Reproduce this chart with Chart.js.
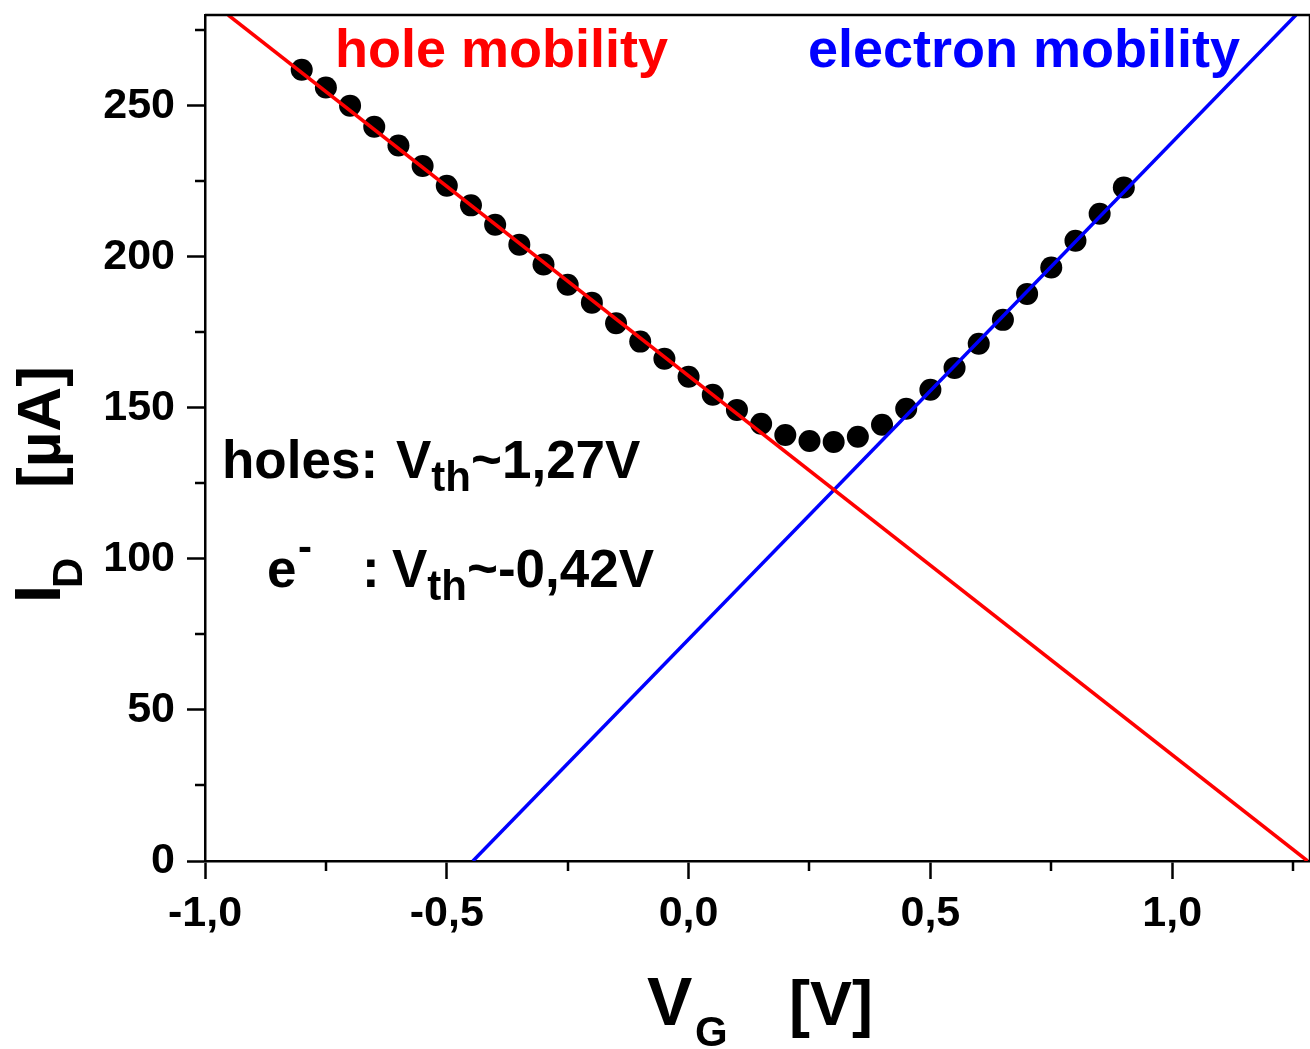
<!DOCTYPE html>
<html>
<head>
<meta charset="utf-8">
<script src="https://cdn.jsdelivr.net/npm/chart.js@4.4.1/dist/chart.umd.min.js"></script>
<style>
  html, body { margin: 0; padding: 0; background: #fff; }
  #wrap { width: 1310px; height: 1049px; position: relative; }
</style>
</head>
<body>
<div id="wrap"><canvas id="c" width="1310" height="1049"></canvas></div>
<script>
// ---- data ----
const vgValues = [-0.80,-0.75,-0.70,-0.65,-0.60,-0.55,-0.50,-0.45,-0.40,-0.35,-0.30,-0.25,-0.20,-0.15,-0.10,-0.05,
  0.00,0.05,0.10,0.15,0.20,0.25,0.30,0.35,0.40,0.45,0.50,0.55,0.60,0.65,0.70,0.75,0.80,0.85,0.90];
const idValues = [261.9,256.0,250.0,243.0,236.8,230.0,223.5,217.0,210.6,204.0,197.4,190.7,184.8,178.0,171.9,166.2,
  160.3,154.3,149.3,144.7,141.0,139.0,138.7,140.4,144.4,149.7,156.0,163.2,171.2,179.1,187.7,196.4,205.3,214.2,222.9];
const holeFitX = [-0.952, 1.28];
const holeFitY = [280, 0];
const electronFitX = [-0.446, 1.256];
const electronFitY = [0, 280];
const xTickValues = [-1.0, -0.5, 0.0, 0.5, 1.0];
const xMinorTickValues = [-0.75, -0.25, 0.25, 0.75, 1.25];
const yTickValues = [0, 50, 100, 150, 200, 250];
const yMinorTickValues = [25, 75, 125, 175, 225, 275];
const xRange = [-1.0, 1.285];
const yRange = [0, 280];

const FONT = "'Liberation Sans', Arial, sans-serif";
const toPts = (xs, ys) => xs.map((x, i) => ({ x: x, y: ys[i] }));

function drawRich(ctx, x, y, segs, color) {
  ctx.save();
  ctx.fillStyle = color;
  ctx.textBaseline = 'alphabetic';
  ctx.textAlign = 'left';
  let cx = x;
  for (const s of segs) {
    if (s.at !== undefined) cx = s.at;
    ctx.font = 'bold ' + s.size + 'px ' + FONT;
    ctx.fillText(s.t, cx, y + (s.dy || 0));
    cx += ctx.measureText(s.t).width;
  }
  ctx.restore();
}

const decor = {
  id: 'decor',
  afterDraw(chart) {
    const ctx = chart.ctx;
    const a = chart.chartArea;
    const xs = chart.scales.x, ys = chart.scales.y;
    ctx.save();
    ctx.strokeStyle = '#000';
    ctx.lineWidth = 2.5;
    // top & right frame
    ctx.beginPath();
    ctx.moveTo(a.left, a.top); ctx.lineTo(a.right, a.top);
    ctx.moveTo(a.right, a.top); ctx.lineTo(a.right, a.bottom);
    ctx.stroke();
    // minor ticks
    ctx.beginPath();
    for (const v of xMinorTickValues) {
      const p = Math.round(xs.getPixelForValue(v));
      ctx.moveTo(p, a.bottom); ctx.lineTo(p, a.bottom + 10);
    }
    for (const v of yMinorTickValues) {
      const p = Math.round(ys.getPixelForValue(v));
      ctx.moveTo(a.left - 10, p); ctx.lineTo(a.left, p);
    }
    ctx.stroke();
    ctx.restore();

    // series labels
    drawRich(ctx, 335, 67, [{ t: 'hole mobility', size: 54 }], '#ff0000');
    drawRich(ctx, 808, 67, [{ t: 'electron mobility', size: 54 }], '#0000ff');

    // annotations
    drawRich(ctx, 222, 478, [
      { t: 'holes: ', size: 53 },
      { t: 'V', size: 53, at: 396 },
      { t: 'th', size: 42, dy: 13 },
      { t: '~1,27V', size: 53 }
    ], '#000');
    drawRich(ctx, 267, 587, [
      { t: 'e', size: 53 },
      { t: '-', size: 42, dy: -26, at: 298 },
      { t: ':', size: 53, at: 362 },
      { t: 'V', size: 53, at: 392 },
      { t: 'th', size: 42, dy: 13 },
      { t: '~-0,42V', size: 53 }
    ], '#000');

    // x axis title
    drawRich(ctx, 647, 1025, [
      { t: 'V', size: 68 },
      { t: 'G', size: 42, dy: 21, at: 695 },
      { t: '[V]', size: 63, at: 789 }
    ], '#000');

    // y axis title (rotated)
    ctx.save();
    ctx.translate(60, 603);
    ctx.rotate(-Math.PI / 2);
    drawRich(ctx, 0, 0, [
      { t: 'I', size: 65 },
      { t: 'D', size: 42, dy: 22, at: 15 },
      { t: '[\u00b5A]', size: 62, at: 115 }
    ], '#000');
    ctx.restore();
  }
};

const tickFont = { family: FONT, size: 43, weight: 'bold' };
const fmt = v => Number(v).toFixed(1).replace('.', ',');

new Chart(document.getElementById('c'), {
  type: 'scatter',
  data: {
    datasets: [
      {
        label: 'hole fit', data: toPts(holeFitX, holeFitY), showLine: true,
        borderColor: '#ff0000', borderWidth: 3.5, pointRadius: 0, fill: false, order: 0
      },
      {
        label: 'electron fit', data: toPts(electronFitX, electronFitY), showLine: true,
        borderColor: '#0000ff', borderWidth: 3.5, pointRadius: 0, fill: false, order: 0
      },
      {
        label: 'I_D', data: toPts(vgValues, idValues), showLine: false,
        pointRadius: 11, pointBackgroundColor: '#000', pointBorderColor: '#000', pointBorderWidth: 0, order: 1
      }
    ]
  },
  options: {
    responsive: false,
    devicePixelRatio: 1,
    animation: false,
    layout: { autoPadding: false, padding: { top: 15, right: 0, left: 0, bottom: 0 } },
    plugins: { legend: { display: false }, tooltip: { enabled: false } },
    scales: {
      x: {
        type: 'linear', min: xRange[0], max: xRange[1],
        afterBuildTicks: s => { s.ticks = xTickValues.map(v => ({ value: v })); },
        afterFit: s => { s.height = 188; s.paddingLeft = 0; s.paddingRight = 0; },
        ticks: { font: tickFont, color: '#000', padding: 9, maxRotation: 0, autoSkip: false, callback: fmt },
        grid: { drawOnChartArea: false, drawTicks: true, tickLength: 18, tickWidth: 2.5, tickColor: '#000' },
        border: { display: true, color: '#000', width: 2.5 }
      },
      y: {
        type: 'linear', min: yRange[0], max: yRange[1],
        afterBuildTicks: s => { s.ticks = yTickValues.map(v => ({ value: v })); },
        afterFit: s => { s.width = 205; s.paddingTop = 0; s.paddingBottom = 0; },
        ticks: { font: tickFont, color: '#000', padding: 12, autoSkip: false, callback: v => String(v) },
        grid: { drawOnChartArea: false, drawTicks: true, tickLength: 18, tickWidth: 2.5, tickColor: '#000' },
        border: { display: true, color: '#000', width: 2.5 }
      }
    }
  },
  plugins: [decor]
});
</script>
</body>
</html>
